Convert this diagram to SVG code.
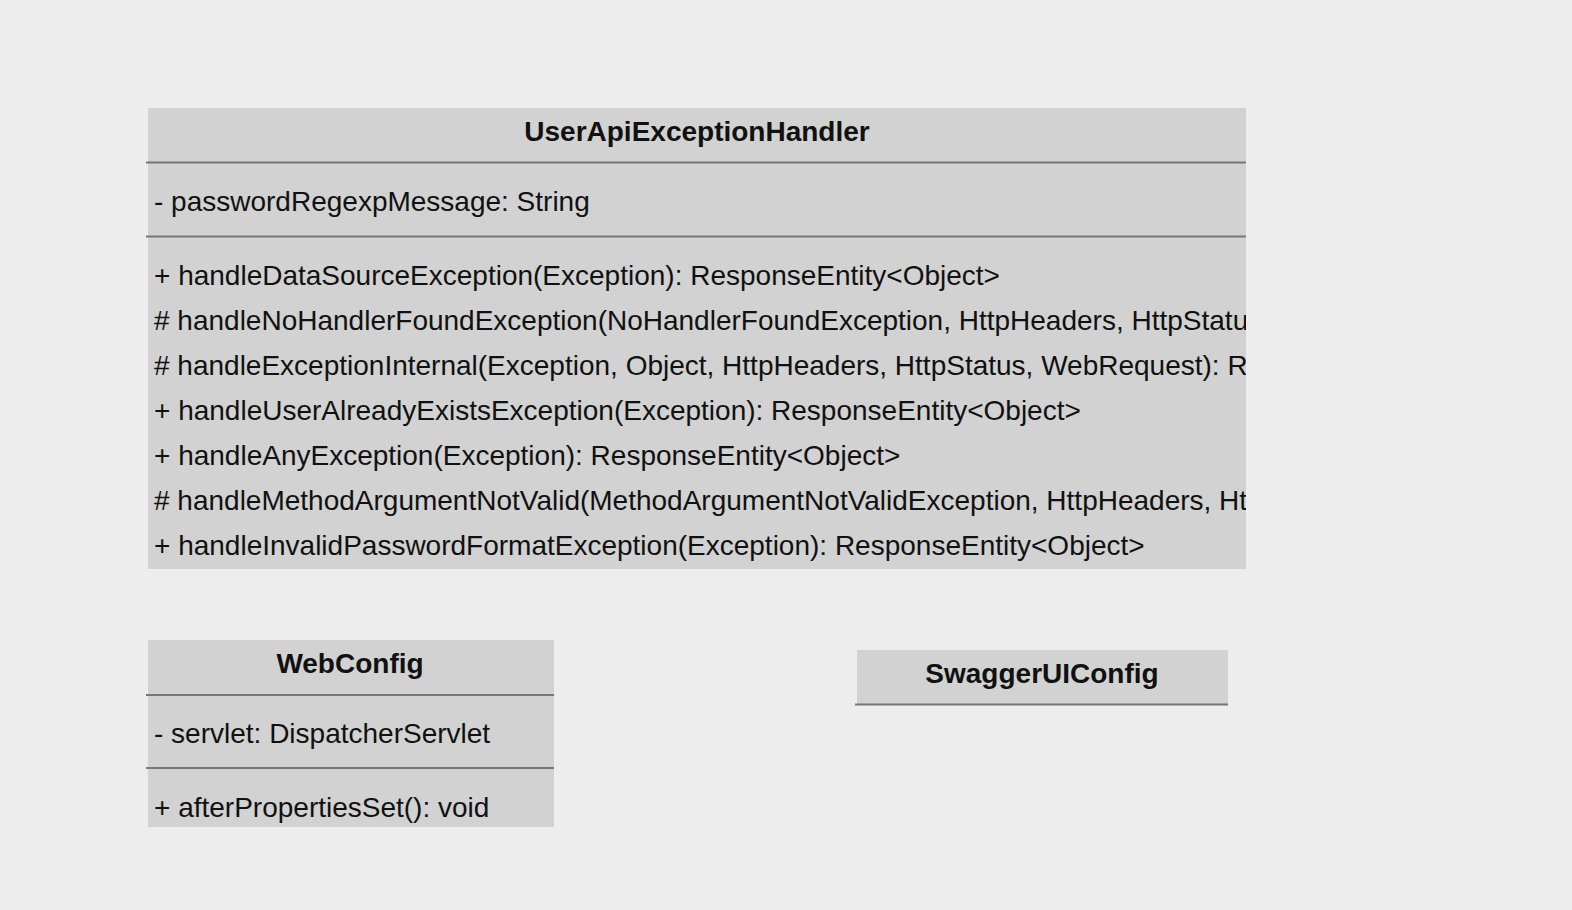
<svg xmlns="http://www.w3.org/2000/svg" width="1572" height="910" viewBox="0 0 1572 910">
<defs>
<style>
.box{fill:#d2d2d2;}
.sep{stroke:#777;stroke-width:2;}
.t{font-family:"Liberation Sans",Arial,sans-serif;font-size:28px;fill:#111;}
.h{font-family:"Liberation Sans",Arial,sans-serif;font-size:28px;font-weight:bold;fill:#111;text-anchor:middle;}
</style>
<clipPath id="c1"><rect x="148" y="108" width="1098" height="461"/></clipPath>
<clipPath id="c2"><rect x="148" y="640" width="406" height="187"/></clipPath>
</defs>
<rect width="1572" height="910" fill="#ededed"/>
<g id="UserApiExceptionHandler">
<rect class="box" x="148" y="108" width="1098" height="461"/>
<line class="sep" x1="146" y1="162.5" x2="1246" y2="162.5"/>
<line class="sep" x1="146" y1="236.5" x2="1246" y2="236.5"/>
<g clip-path="url(#c1)">
<text class="h" x="697" y="140.5">UserApiExceptionHandler</text>
<text class="t" x="154" y="210.5">- passwordRegexpMessage: String</text>
<text class="t" x="154" y="285">+ handleDataSourceException(Exception): ResponseEntity&lt;Object&gt;</text>
<text class="t" x="154" y="330">&#35; handleNoHandlerFoundException(NoHandlerFoundException, HttpHeaders, HttpStatus, WebRequest): ResponseEntity&lt;Object&gt;</text>
<text class="t" x="154" y="375">&#35; handleExceptionInternal(Exception, Object, HttpHeaders, HttpStatus, WebRequest): ResponseEntity&lt;Object&gt;</text>
<text class="t" x="154" y="420">+ handleUserAlreadyExistsException(Exception): ResponseEntity&lt;Object&gt;</text>
<text class="t" x="154" y="465">+ handleAnyException(Exception): ResponseEntity&lt;Object&gt;</text>
<text class="t" x="154" y="509.5">&#35; handleMethodArgumentNotValid(MethodArgumentNotValidException, HttpHeaders, HttpStatus, WebRequest): ResponseEntity&lt;Object&gt;</text>
<text class="t" x="154" y="554.5">+ handleInvalidPasswordFormatException(Exception): ResponseEntity&lt;Object&gt;</text>
</g>
</g>
<g id="WebConfig">
<rect class="box" x="148" y="640" width="406" height="187"/>
<line class="sep" x1="146" y1="695" x2="554" y2="695"/>
<line class="sep" x1="146" y1="768" x2="554" y2="768"/>
<g clip-path="url(#c2)">
<text class="h" x="350" y="673">WebConfig</text>
<text class="t" x="154" y="743">- servlet: DispatcherServlet</text>
<text class="t" x="154" y="817">+ afterPropertiesSet(): void</text>
</g>
</g>
<g id="SwaggerUIConfig">
<rect class="box" x="857" y="650" width="371" height="54"/>
<line class="sep" x1="855" y1="704.5" x2="1228" y2="704.5"/>
<text class="h" x="1042" y="683">SwaggerUIConfig</text>
</g>
<g id="connectors"/>
</svg>
